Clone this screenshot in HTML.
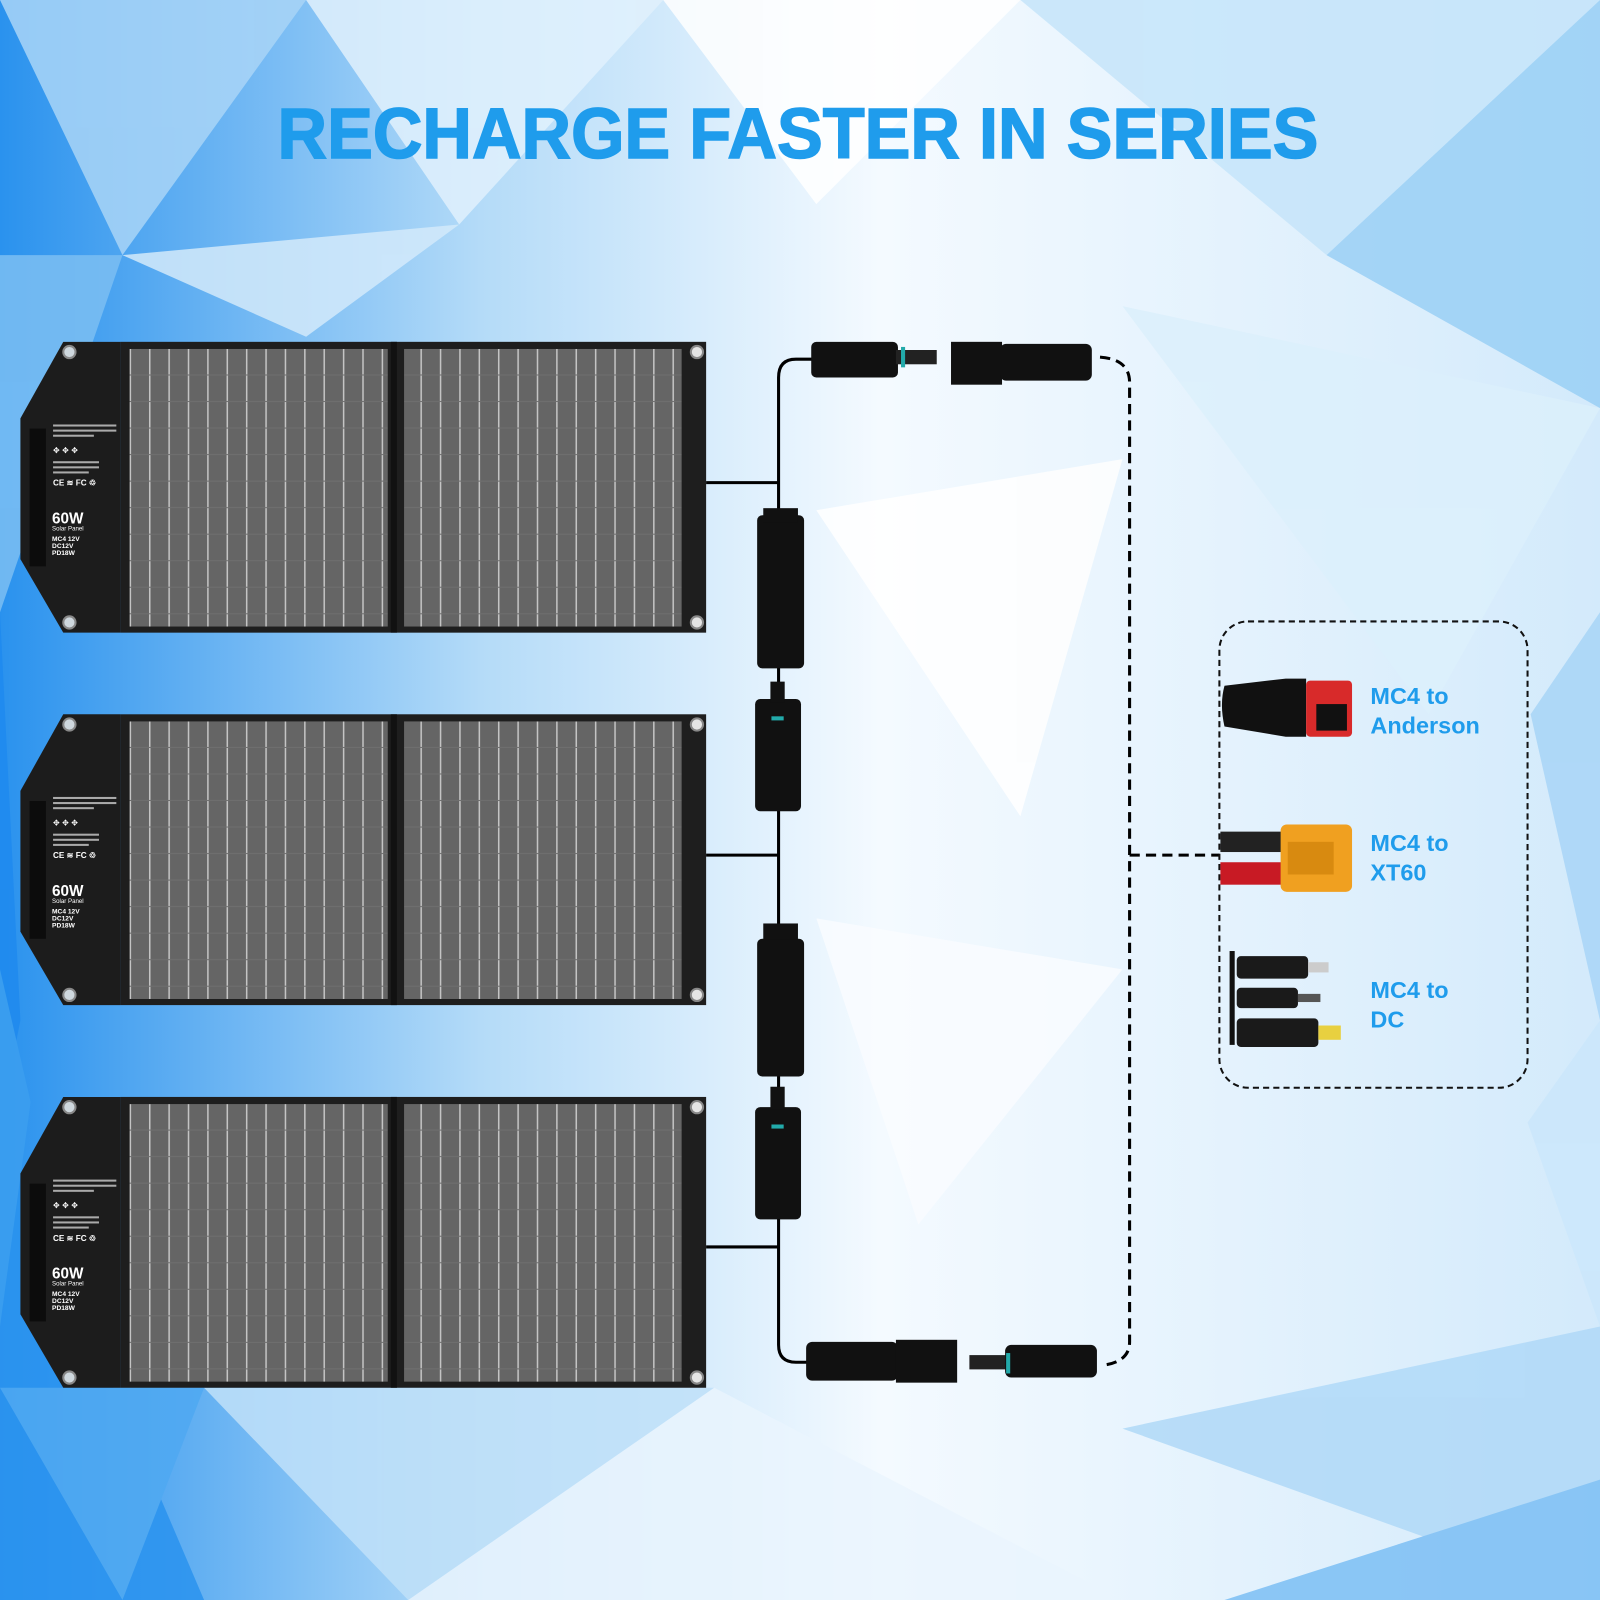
<!DOCTYPE html>
<html><head><meta charset="utf-8"><style>html,body{margin:0;padding:0;background:#fff}svg{display:block}</style></head>
<body>
<svg width="1600" height="1600" viewBox="0 0 1568 1568" xmlns="http://www.w3.org/2000/svg">
<defs>
<pattern id="cells" x="127" y="342" width="19" height="26" patternUnits="userSpaceOnUse">
<rect width="19" height="26" fill="#656565"/>
<rect x="0" y="0" width="1.5" height="26" fill="#c4c4c4"/>
<rect x="0" y="25" width="19" height="1" fill="#6f6f6f"/>
</pattern>
<linearGradient id="bgl" x1="0" y1="0" x2="1" y2="0">
<stop offset="0" stop-color="#2a92ee"/><stop offset="0.3" stop-color="#b4dbf8"/><stop offset="0.55" stop-color="#f4faff"/><stop offset="1" stop-color="#d3eafb"/>
</linearGradient>
</defs>
<rect width="1568" height="1568" fill="url(#bgl)"/>
<g opacity="0.85">
<polygon points="0,0 300,0 120,250" fill="#a9d5f7"/>
<polygon points="300,0 650,0 450,220" fill="#e1f1fd"/>
<polygon points="650,0 1000,0 800,200" fill="#ffffff"/>
<polygon points="1000,0 1568,0 1300,250" fill="#c6e5fa"/>
<polygon points="1300,250 1568,0 1568,400" fill="#9ad0f6"/>
<polygon points="1100,300 1568,400 1400,700" fill="#dcf0fc"/>
<polygon points="0,250 120,250 0,600" fill="#7cbff3"/>
<polygon points="120,250 450,220 300,330" fill="#d3eafb"/>
<polygon points="0,600 20,1000 0,1100" fill="#1f8aee"/>
<polygon points="0,1100 200,1568 0,1568" fill="#2a93ef"/>
<polygon points="0,950 30,1080 0,1300" fill="#3c9ff0"/>
<polygon points="200,1360 700,1360 400,1568" fill="#c0e1f9"/>
<polygon points="0,1360 200,1360 120,1568" fill="#4fa9f2"/>
<polygon points="700,1360 1100,1568 400,1568" fill="#eaf5fe"/>
<polygon points="1100,1400 1568,1300 1568,1568" fill="#b0d9f8"/>
<polygon points="1200,1568 1568,1450 1568,1568" fill="#7cbff4"/>
<polygon points="1500,700 1568,600 1568,1000" fill="#a8d5f7"/>
<polygon points="1497,1100 1568,1000 1568,1300" fill="#cbe7fb"/>
<polygon points="800,500 1100,450 1000,800" fill="#ffffff"/>
<polygon points="800,900 1100,950 900,1200" fill="#f9fcff"/>
</g>
<text x="782" y="155" text-anchor="middle" font-family="Liberation Sans, sans-serif" font-weight="bold" font-size="70" fill="#1f9cec" stroke="#1f9cec" stroke-width="1.5" textLength="1020" lengthAdjust="spacingAndGlyphs">RECHARGE FASTER IN SERIES</text>

<g id="panel">
<polygon points="62,335 118,335 118,620 62,620 20,548 20,410" fill="#1c1c1c"/>
<rect x="118" y="335" width="574" height="285" fill="#1e1e1e"/>
<rect x="127" y="342" width="253" height="272" fill="url(#cells)"/>
<rect x="396" y="342" width="272" height="272" fill="url(#cells)"/>
<rect x="383" y="335" width="6" height="285" fill="#111"/>
<rect x="29" y="420" width="16" height="135" fill="#0c0c0c"/>
<circle cx="68" cy="345" r="6" fill="#cfd8de" stroke="#888" stroke-width="2"/>
<circle cx="68" cy="610" r="6" fill="#cfd8de" stroke="#888" stroke-width="2"/>
<circle cx="683" cy="345" r="6" fill="#e5e5e5" stroke="#888" stroke-width="2"/>
<circle cx="683" cy="610" r="6" fill="#e5e5e5" stroke="#888" stroke-width="2"/>
<g font-family="Liberation Sans, sans-serif" fill="#fff">
<rect x="52" y="416" width="62" height="2" fill="#aaa"/><rect x="52" y="421" width="62" height="2" fill="#aaa"/><rect x="52" y="426" width="40" height="2" fill="#aaa"/>
<text x="52" y="444" font-size="8">✥ ✥ ✥</text>
<rect x="52" y="452" width="45" height="2" fill="#aaa"/><rect x="52" y="457" width="45" height="2" fill="#aaa"/><rect x="52" y="462" width="35" height="2" fill="#aaa"/>
<text x="52" y="476" font-size="8" font-weight="bold">CE ≋ FC ♲</text>
<text x="51" y="513" font-size="15" font-weight="bold">60W</text>
<text x="51" y="520" font-size="6">Solar Panel</text>
<text x="51" y="530" font-size="6.5" font-weight="bold">MC4 12V</text>
<text x="51" y="537" font-size="6.5" font-weight="bold">DC12V</text>
<text x="51" y="544" font-size="6.5" font-weight="bold">PD18W</text>
</g>
</g>
<use href="#panel" y="365"/>
<use href="#panel" y="740"/>

<g fill="none" stroke="#000" stroke-width="3">
<path d="M800,352 L780,352 Q763,352 763,370 L763,1318 Q763,1335 780,1335 L795,1335"/>
<path d="M692,473 H763 M692,838 H763 M692,1222 H763"/>
</g>
<g fill="none" stroke="#000" stroke-width="3" stroke-dasharray="10,6">
<path d="M1078,350 Q1107,352 1107,375 L1107,1315 Q1107,1335 1080,1338"/>
<path d="M1107,838 H1195"/>
</g>
<rect x="1195" y="609" width="302" height="457" rx="28" fill="none" stroke="#111" stroke-width="2" stroke-dasharray="6,4"/>

<g fill="#111">
<rect x="795" y="335" width="85" height="35" rx="5"/><rect x="878" y="343" width="40" height="14" fill="#222"/><rect x="883" y="340" width="4" height="20" fill="#2aa"/>
<rect x="932" y="335" width="50" height="42"/><rect x="980" y="337" width="90" height="36" rx="6"/>
<rect x="742" y="505" width="46" height="150" rx="5"/><rect x="748" y="498" width="34" height="14"/>
<rect x="740" y="685" width="45" height="110" rx="5"/><rect x="755" y="668" width="14" height="20"/><rect x="756" y="702" width="12" height="4" fill="#2aa"/>
<rect x="742" y="920" width="46" height="135" rx="5"/><rect x="748" y="905" width="34" height="16"/>
<rect x="740" y="1085" width="45" height="110" rx="5"/><rect x="755" y="1065" width="14" height="22"/><rect x="756" y="1102" width="12" height="4" fill="#2aa"/>
<rect x="790" y="1315" width="90" height="38" rx="6"/><rect x="878" y="1313" width="60" height="42"/>
<rect x="950" y="1328" width="40" height="14" fill="#222"/><rect x="985" y="1318" width="90" height="32" rx="6"/><rect x="986" y="1326" width="4" height="20" fill="#2aa"/>
</g>

<g>
<path d="M1200,672 Q1195,690 1200,712 L1260,722 L1280,722 L1280,665 L1260,665 Z" fill="#111"/>
<rect x="1280" y="667" width="45" height="55" rx="4" fill="#d82a2a"/>
<rect x="1290" y="690" width="30" height="26" fill="#111"/>
<rect x="1196" y="815" width="60" height="20" fill="#222"/>
<rect x="1196" y="845" width="60" height="22" fill="#c81a24"/>
<rect x="1255" y="808" width="70" height="66" rx="6" fill="#f0a020"/>
<rect x="1262" y="825" width="45" height="32" fill="#d88a10"/>
<rect x="1205" y="932" width="5" height="92" fill="#111"/>
<rect x="1212" y="937" width="70" height="22" rx="4" fill="#1a1a1a"/><rect x="1282" y="943" width="20" height="10" fill="#ccc"/>
<rect x="1212" y="968" width="60" height="20" rx="4" fill="#1a1a1a"/><rect x="1272" y="974" width="22" height="8" fill="#555"/>
<rect x="1212" y="998" width="80" height="28" rx="4" fill="#1a1a1a"/><rect x="1292" y="1005" width="22" height="14" fill="#e8d040"/>
</g>
<g font-family="Liberation Sans, sans-serif" font-weight="bold" font-size="23" fill="#1f9cec">
<text x="1343" y="690">MC4 to</text><text x="1343" y="719">Anderson</text>
<text x="1343" y="834">MC4 to</text><text x="1343" y="863">XT60</text>
<text x="1343" y="978">MC4 to</text><text x="1343" y="1007">DC</text>
</g>
</svg>
</body></html>
